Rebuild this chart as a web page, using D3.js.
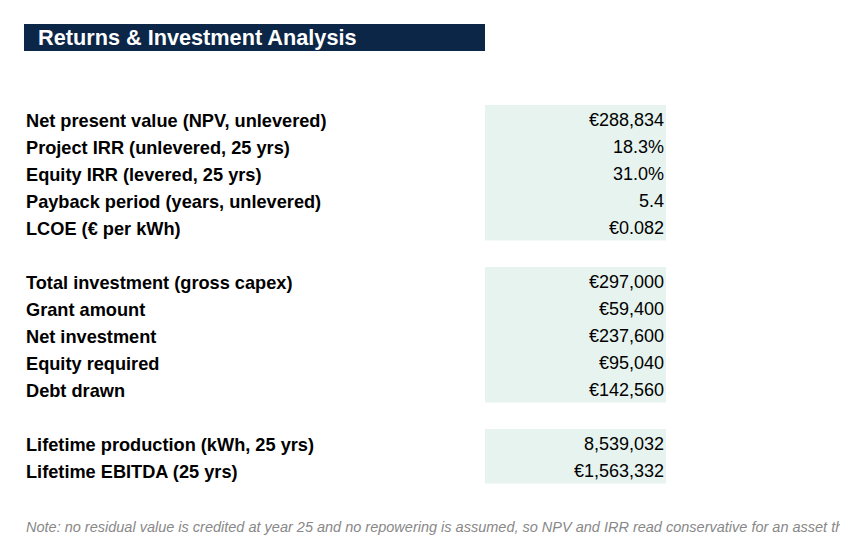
<!DOCTYPE html>
<html>
<head>
<meta charset="utf-8">
<script src="https://cdn.jsdelivr.net/npm/d3@7"></script>
<style>
  body { margin: 0; background: #fff; }
  svg { display: block; font-family: "Liberation Sans", Arial, sans-serif; }
</style>
</head>
<body>
<svg id="sheet"></svg>
<script>
// Rows of the summary table (null = empty spacer row)
const labels = [
    "Net present value (NPV, unlevered)",
    "Project IRR (unlevered, 25 yrs)",
    "Equity IRR (levered, 25 yrs)",
    "Payback period (years, unlevered)",
    "LCOE (€ per kWh)",
    null,
    "Total investment (gross capex)",
    "Grant amount",
    "Net investment",
    "Equity required",
    "Debt drawn",
    null,
    "Lifetime production (kWh, 25 yrs)",
    "Lifetime EBITDA (25 yrs)"
];
const values = [
    "€288,834", "18.3%", "31.0%", "5.4", "€0.082",
    null,
    "€297,000", "€59,400", "€237,600", "€95,040", "€142,560",
    null,
    "8,539,032", "€1,563,332"
];
const title = "Returns & Investment Analysis";
const note = "Note: no residual value is credited at year 25 and no repowering is assumed, so NPV and IRR read conservative for an asset that";

const W = 864, H = 560;
const svg = d3.select("#sheet").attr("width", W).attr("height", H);

// spreadsheet grid: 27px rows starting at y=24
const rowH = 27;
const gridTop = 24;
const nRows = 3 + labels.length + 2; // title, 2 blanks, table, blank, note
const y = d3.scaleBand()
    .domain(d3.range(nRows))
    .range([gridTop, gridTop + nRows * rowH]);

const colA = {x0: 24, x1: 485};
const colB = {x0: 485, x1: 666};

// Title bar
svg.append("rect")
    .attr("x", colA.x0)
    .attr("y", y(0))
    .attr("width", colA.x1 - colA.x0)
    .attr("height", y.bandwidth())
    .attr("fill", "#0c2647");

svg.append("text")
    .attr("x", 38)
    .attr("y", y(0) + y.bandwidth() / 2 - 0.5)
    .attr("dy", "0.36em")
    .attr("fill", "#fff")
    .style("font-weight", "bold")
    .style("font-size", "21.7px")
    .text(title);

const rows = labels.map((l, i) => ({label: l, value: values[i], row: i + 3}));

// Shaded value cells
svg.selectAll("rect.cell")
    .data(rows.filter(d => d.value !== null))
    .join("rect")
    .attr("class", "cell")
    .attr("x", colB.x0)
    .attr("y", d => y(d.row))
    .attr("width", colB.x1 - colB.x0)
    .attr("height", y.bandwidth() + 0.5)
    .attr("fill", "#e7f3ef");

// Labels
svg.selectAll("text.label")
    .data(rows.filter(d => d.label !== null))
    .join("text")
    .attr("class", "label")
    .attr("x", 26)
    .attr("y", d => y(d.row) + y.bandwidth() / 2 + 1.5)
    .attr("dy", "0.36em")
    .attr("fill", "#000")
    .style("font-weight", "bold")
    .style("font-size", "18.2px")
    .text(d => d.label);

// Values
svg.selectAll("text.value")
    .data(rows.filter(d => d.value !== null))
    .join("text")
    .attr("class", "value")
    .attr("x", colB.x1 - 2)
    .attr("y", d => y(d.row) + y.bandwidth() / 2 + 1.5)
    .attr("dy", "0.36em")
    .attr("text-anchor", "end")
    .attr("fill", "#000")
    .style("font-size", "18px")
    .text(d => d.value);

// Note, cut off at the sheet edge
svg.append("clipPath").attr("id", "noteclip")
    .append("rect").attr("x", 0).attr("y", 0).attr("width", 840).attr("height", H);

svg.append("text")
    .attr("clip-path", "url(#noteclip)")
    .attr("x", 26)
    .attr("y", y(nRows - 1) + y.bandwidth() / 2 + 3.5)
    .attr("dy", "0.36em")
    .attr("fill", "#888")
    .style("font-style", "italic")
    .style("font-size", "14.5px")
    .text(note);
</script>
</body>
</html>
